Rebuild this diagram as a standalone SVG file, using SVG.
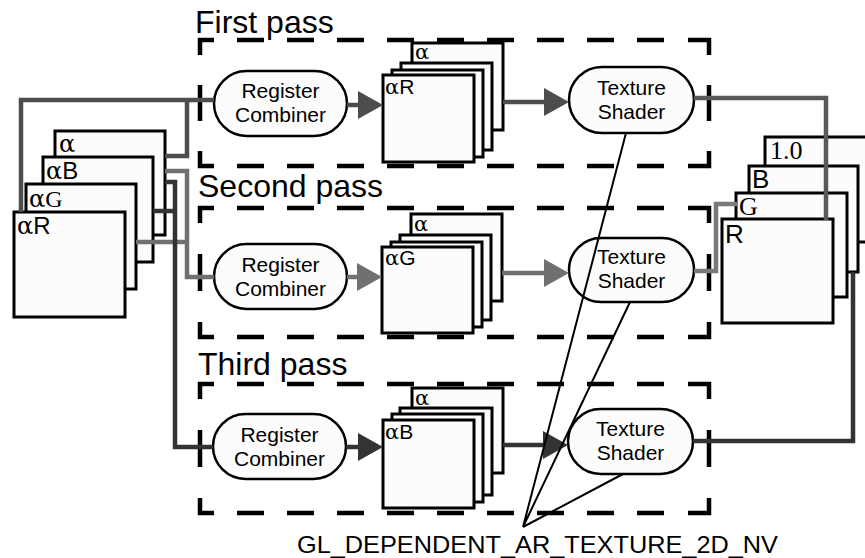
<svg xmlns="http://www.w3.org/2000/svg" width="865" height="558" viewBox="0 0 865 558">
<style>
.sq{fill:#fcfcfc;stroke:#000;stroke-width:3}
.ov{fill:#fcfcfc;stroke:#000;stroke-width:2.5}
.t{font-family:"Liberation Sans",Arial,sans-serif;font-size:21px;fill:#000}
.s{font-family:"Liberation Sans",Arial,sans-serif}
.ser{font-family:"Liberation Serif","Times New Roman",serif}
.al{font-family:"DejaVu Serif","Liberation Serif",serif}
.lab{font-family:"Liberation Sans",Arial,sans-serif;font-size:32px;fill:#000}
.sl{font-size:21px;fill:#000}
.bl{font-size:24px;fill:#000}
.rl{font-size:26px;fill:#000}
.dash{fill:none;stroke:#000;stroke-width:4.5}
.dl{stroke-dasharray:27 23}
.c{fill:none;stroke-width:4.5;stroke-linejoin:miter}
.c1{stroke:#4d4d4d}
.c2{stroke:#707070}
.c3{stroke:#333333}
.o1{stroke:#595959}
.o2{stroke:#7a7a7a}
.ptr{stroke:#000;stroke-width:2;fill:none}
</style>
<defs>
<marker id="a1" markerUnits="userSpaceOnUse" markerWidth="25" markerHeight="28" viewBox="0 0 25 28" refX="0" refY="14" orient="auto"><path d="M0,0 L25,14 L0,28 Z" fill="#4d4d4d"/></marker>
<marker id="a2" markerUnits="userSpaceOnUse" markerWidth="25" markerHeight="28" viewBox="0 0 25 28" refX="0" refY="14" orient="auto"><path d="M0,0 L25,14 L0,28 Z" fill="#707070"/></marker>
<marker id="a3" markerUnits="userSpaceOnUse" markerWidth="25" markerHeight="28" viewBox="0 0 25 28" refX="0" refY="14" orient="auto"><path d="M0,0 L25,14 L0,28 Z" fill="#333333"/></marker>
</defs>
<rect x="0" y="0" width="865" height="558" fill="#fff"/>

<!-- pass frames -->
<g id="pass1-frame">
<text class="lab" x="195" y="33">First pass</text>
<path class="dash" d="M200,55 V40 H214 M688,40 H709 V55 M200,151 V166 H214 M688,166 H709 V151 M200,85 V121 M709,85 V121"/>
<path class="dash dl" d="M237,40 H664 M237,166 H664"/>
</g>
<g id="pass2-frame">
<text class="lab" x="198" y="197">Second pass</text>
<path class="dash" d="M200,223 V208 H214 M688,208 H709 V223 M200,322 V337 H214 M688,337 H709 V322 M200,254 V291 M709,254 V291"/>
<path class="dash dl" d="M237,208 H664 M237,337 H664"/>
</g>
<g id="pass3-frame">
<text class="lab" x="198" y="375">Third pass</text>
<path class="dash" d="M200,399 V384 H214 M688,384 H709 V399 M200,498 V513 H214 M688,513 H709 V498 M200,430 V467 M709,430 V467"/>
<path class="dash dl" d="M237,384 H664 M237,513 H664"/>
</g>

<!-- input stack -->
<g id="input-stack">
<rect class="sq" x="55" y="131" width="110" height="104"/>
<text class="al bl" x="59" y="152">α</text>
<rect class="sq" x="43" y="157" width="110" height="105"/>
<text class="bl" x="46" y="179"><tspan class="al">α</tspan><tspan class="s">B</tspan></text>
<rect class="sq" x="26" y="184" width="110" height="105"/>
<text class="bl" x="29" y="207"><tspan class="al">α</tspan><tspan class="ser">G</tspan></text>
<rect class="sq" x="14" y="212" width="111" height="105"/>
<text class="bl" x="17" y="234"><tspan class="al">α</tspan><tspan class="s">R</tspan></text>
</g>

<!-- register combiners -->
<g id="rc1">
<rect class="ov" x="214" y="71" width="133" height="65" rx="32.5" ry="32.5"/>
<text class="t" x="280.5" y="98" text-anchor="middle">Register</text>
<text class="t" x="280.5" y="122" text-anchor="middle">Combiner</text>
</g>
<g id="rc2">
<rect class="ov" x="214" y="244" width="133" height="65" rx="32.5" ry="32.5"/>
<text class="t" x="280.5" y="272" text-anchor="middle">Register</text>
<text class="t" x="280.5" y="296" text-anchor="middle">Combiner</text>
</g>
<g id="rc3">
<rect class="ov" x="213" y="414" width="133" height="65" rx="32.5" ry="32.5"/>
<text class="t" x="279.5" y="442" text-anchor="middle">Register</text>
<text class="t" x="279.5" y="466" text-anchor="middle">Combiner</text>
</g>

<!-- intermediate stacks -->
<g id="stack1">
<rect class="sq" x="412" y="43" width="91" height="87"/>
<text class="al sl" x="415" y="59">α</text>
<rect class="sq" x="401" y="63" width="91" height="87"/>
<rect class="sq" x="392" y="70" width="91" height="87"/>
<rect class="sq" x="383" y="75" width="91" height="87"/>
<text class="sl" x="385" y="94"><tspan class="al">α</tspan><tspan class="s">R</tspan></text>
</g>
<g id="stack2">
<rect class="sq" x="411" y="214" width="91" height="87"/>
<text class="al sl" x="414" y="231">α</text>
<rect class="sq" x="400" y="235" width="91" height="85"/>
<rect class="sq" x="391" y="242" width="91" height="85"/>
<rect class="sq" x="382" y="247" width="91" height="86"/>
<text class="sl" x="385" y="265"><tspan class="al">α</tspan><tspan class="s">G</tspan></text>
</g>
<g id="stack3">
<rect class="sq" x="412" y="388" width="91" height="85"/>
<text class="al sl" x="415" y="405">α</text>
<rect class="sq" x="400" y="408" width="92" height="87"/>
<rect class="sq" x="392" y="414" width="91" height="88"/>
<rect class="sq" x="383" y="420" width="91" height="88"/>
<text class="sl" x="385" y="439"><tspan class="al">α</tspan><tspan class="s">B</tspan></text>
</g>

<!-- texture shaders -->
<g id="ts1">
<rect class="ov" x="569" y="67" width="125" height="66" rx="33" ry="33"/>
<text class="t" x="631.5" y="95" text-anchor="middle">Texture</text>
<text class="t" x="631.5" y="119" text-anchor="middle">Shader</text>
</g>
<g id="ts2">
<rect class="ov" x="569" y="238" width="125" height="64" rx="32" ry="32"/>
<text class="t" x="631.5" y="264" text-anchor="middle">Texture</text>
<text class="t" x="631.5" y="288" text-anchor="middle">Shader</text>
</g>
<g id="ts3">
<rect class="ov" x="568" y="409" width="125" height="65" rx="32.5" ry="32.5"/>
<text class="t" x="630.5" y="436" text-anchor="middle">Texture</text>
<text class="t" x="630.5" y="460" text-anchor="middle">Shader</text>
</g>

<!-- output stack -->
<g id="output-stack">
<rect class="sq" x="765" y="137" width="112" height="105"/>
<text class="ser rl" x="770" y="159">1.0</text>
<rect class="sq" x="749" y="166" width="109" height="106"/>
<text class="s rl" x="752" y="188">B</text>
<rect class="sq" x="736" y="193" width="111" height="104"/>
<text class="ser rl" x="739" y="215">G</text>
<rect class="sq" x="722" y="219" width="111" height="104"/>
<text class="s rl" x="725" y="243">R</text>
</g>

<!-- label -->
<g id="mode-label">
<text class="s" x="297" y="553" font-size="24" textLength="481" lengthAdjust="spacingAndGlyphs">GL_DEPENDENT_AR_TEXTURE_2D_NV</text>
</g>

<!-- connectors -->
<g id="connectors">
<path class="c c1" d="M21,212 V100 H214"/>
<path class="c c1" d="M165,156 H187 V100"/>
<path class="c c2" d="M165,171 H187 V277 H214"/>
<path class="c c2" d="M136,242 H187"/>
<path class="c c3" d="M165,182 H175 V447 H213"/>
<path class="c c3" d="M153,211 H175"/>
<path class="c c1" d="M347,105 H358" marker-end="url(#a1)"/>
<path class="c c1" d="M503,102 H544" marker-end="url(#a1)"/>
<path class="c c2" d="M347,277 H357" marker-end="url(#a2)"/>
<path class="c c2" d="M502,273 H544" marker-end="url(#a2)"/>
<path class="c c3" d="M346,447 H358" marker-end="url(#a3)"/>
<path class="c c3" d="M503,445 H543" marker-end="url(#a3)"/>
<path class="c o1" d="M694,98 H826 V220"/>
<path class="c o2" d="M694,271 H716 V204 H737"/>
<path class="c c3" d="M693,441 H853 V272"/>
<path class="ptr" d="M523,527 L626,133 M523,527 L630,302 M523,527 L623,474"/>
</g>
</svg>
